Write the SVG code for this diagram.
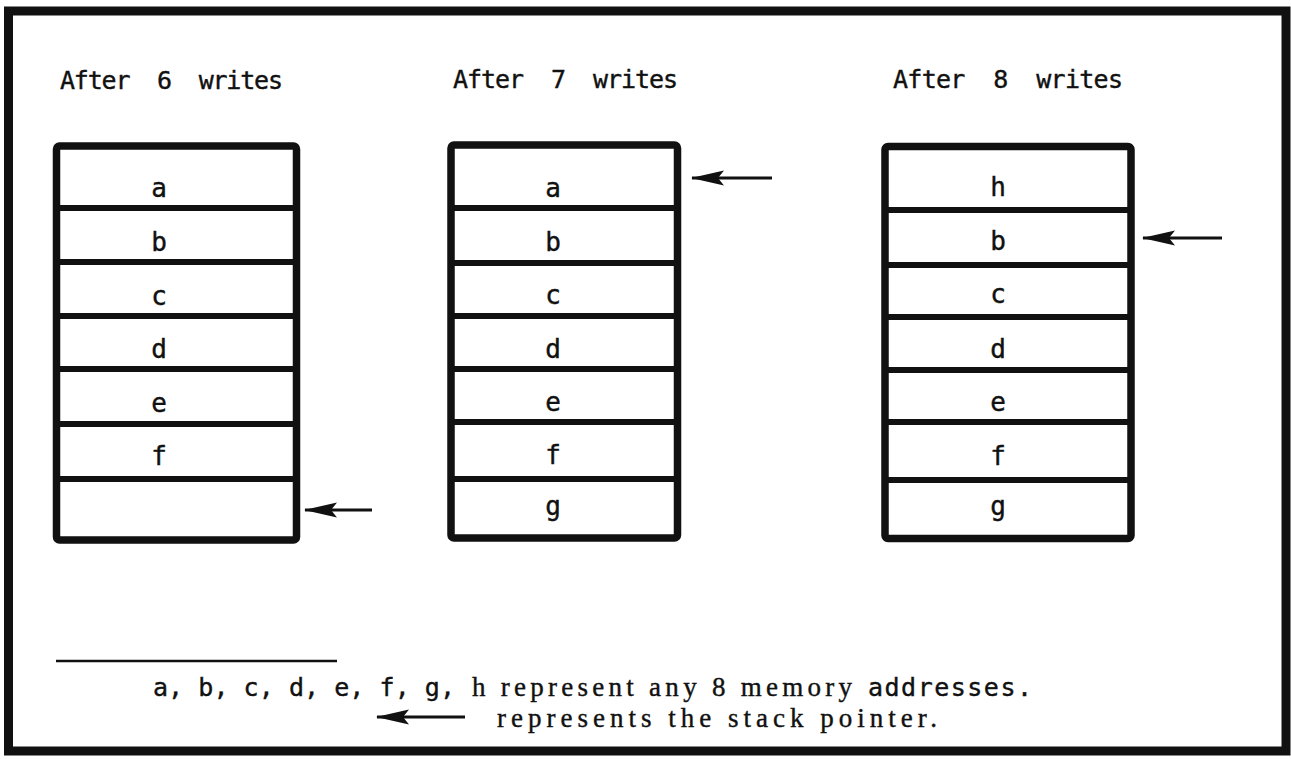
<svg xmlns="http://www.w3.org/2000/svg" width="1291" height="759" viewBox="0 0 1291 759">
  <style>
    .frame { fill: none; stroke: #111; stroke-width: 9; }
    .box { fill: none; stroke: #111; stroke-width: 7.5; stroke-linejoin: round; }
    .div { stroke: #111; stroke-width: 6; }
    .title { font-family: "DejaVu Sans Mono", "Liberation Mono", monospace; font-size: 25px; fill: #111; stroke: #111; stroke-width: 0.4; white-space: pre; }
    .cell { font-family: "DejaVu Sans Mono", "Liberation Mono", monospace; font-size: 26px; fill: #111; stroke: #111; stroke-width: 0.4; text-anchor: middle; }
    .mono { font-family: "DejaVu Sans Mono", "Liberation Mono", monospace; font-size: 25px; fill: #111; stroke: #111; stroke-width: 0.4; white-space: pre; }
    .serif { font-family: "Liberation Serif", "DejaVu Serif", serif; font-size: 27px; fill: #111; stroke: #111; stroke-width: 0.4; white-space: pre; }
    .ptr { stroke: #111; stroke-width: 3; fill: none; marker-end: url(#head); }
    .rule { stroke: #111; stroke-width: 2.5; }
  </style>
  <defs>
    <!-- solid arrowhead for the stack pointer, pointing along +x -->
    <marker id="head" markerUnits="userSpaceOnUse" viewBox="-34 -9 36 18" markerWidth="36" markerHeight="18" refX="0" refY="0" orient="auto">
      <path d="M1,0 L-32,-7.5 L-26,0 L-32,7.5 Z" fill="#111"/>
    </marker>
  </defs>

  <rect x="0" y="0" width="1291" height="759" fill="#fff"/>
  <rect class="frame" x="8.5" y="11" width="1277.5" height="740"/>

  <!-- stack after 6 writes -->
  <g id="stack6">
    <text class="title" x="60" y="89" textLength="223" lengthAdjust="spacing">After  6  writes</text>
    <rect class="box" x="56.5" y="146" width="240" height="394" rx="3"/>
    <line class="div" x1="56.5" y1="208" x2="296.5" y2="208"/>
    <line class="div" x1="56.5" y1="262" x2="296.5" y2="262"/>
    <line class="div" x1="56.5" y1="316" x2="296.5" y2="316"/>
    <line class="div" x1="56.5" y1="369" x2="296.5" y2="369"/>
    <line class="div" x1="56.5" y1="424" x2="296.5" y2="424"/>
    <line class="div" x1="56.5" y1="479" x2="296.5" y2="479"/>
    <text class="cell" x="159" y="197">a</text>
    <text class="cell" x="159" y="251">b</text>
    <text class="cell" x="159" y="305">c</text>
    <text class="cell" x="159" y="358">d</text>
    <text class="cell" x="159" y="412">e</text>
    <text class="cell" x="159" y="465">f</text>
  </g>

  <!-- stack after 7 writes -->
  <g id="stack7">
    <text class="title" x="453" y="88" textLength="225" lengthAdjust="spacing">After  7  writes</text>
    <rect class="box" x="451" y="145" width="226.5" height="393" rx="3"/>
    <line class="div" x1="451" y1="208" x2="677.5" y2="208"/>
    <line class="div" x1="451" y1="263" x2="677.5" y2="263"/>
    <line class="div" x1="451" y1="316" x2="677.5" y2="316"/>
    <line class="div" x1="451" y1="369" x2="677.5" y2="369"/>
    <line class="div" x1="451" y1="422" x2="677.5" y2="422"/>
    <line class="div" x1="451" y1="479" x2="677.5" y2="479"/>
    <text class="cell" x="553" y="197">a</text>
    <text class="cell" x="553" y="251">b</text>
    <text class="cell" x="553" y="304">c</text>
    <text class="cell" x="553" y="358">d</text>
    <text class="cell" x="553" y="411">e</text>
    <text class="cell" x="553" y="464">f</text>
    <text class="cell" x="553" y="515">g</text>
  </g>

  <!-- stack after 8 writes -->
  <g id="stack8">
    <text class="title" x="893" y="88" textLength="230" lengthAdjust="spacing">After  8  writes</text>
    <rect class="box" x="885" y="146.5" width="246" height="392" rx="3"/>
    <line class="div" x1="885" y1="210" x2="1131" y2="210"/>
    <line class="div" x1="885" y1="265" x2="1131" y2="265"/>
    <line class="div" x1="885" y1="317" x2="1131" y2="317"/>
    <line class="div" x1="885" y1="370" x2="1131" y2="370"/>
    <line class="div" x1="885" y1="422" x2="1131" y2="422"/>
    <line class="div" x1="885" y1="480" x2="1131" y2="480"/>
    <text class="cell" x="998" y="196">h</text>
    <text class="cell" x="998" y="250">b</text>
    <text class="cell" x="998" y="303">c</text>
    <text class="cell" x="998" y="358">d</text>
    <text class="cell" x="998" y="411">e</text>
    <text class="cell" x="998" y="465">f</text>
    <text class="cell" x="998" y="515">g</text>
  </g>

  <!-- stack pointer arrows -->
  <g id="connectors">
    <line class="ptr" x1="372" y1="510" x2="305" y2="510"/>
    <line class="ptr" x1="772" y1="178" x2="692" y2="178"/>
    <line class="ptr" x1="1222" y1="238" x2="1143" y2="238"/>
  </g>

  <!-- legend -->
  <g id="legend">
    <line class="rule" x1="56" y1="661" x2="337" y2="661"/>
    <text class="mono" x="153" y="696" textLength="302" lengthAdjust="spacing">a, b, c, d, e, f, g,</text>
    <text class="serif" x="472" y="696" textLength="380" lengthAdjust="spacing">h represent any 8 memory</text>
    <text class="mono" x="868" y="696" textLength="164" lengthAdjust="spacing">addresses.</text>
    <line class="ptr" x1="465" y1="717" x2="377" y2="717"/>
    <text class="serif" x="497" y="727" textLength="440" lengthAdjust="spacing">represents the stack pointer.</text>
  </g>
</svg>
